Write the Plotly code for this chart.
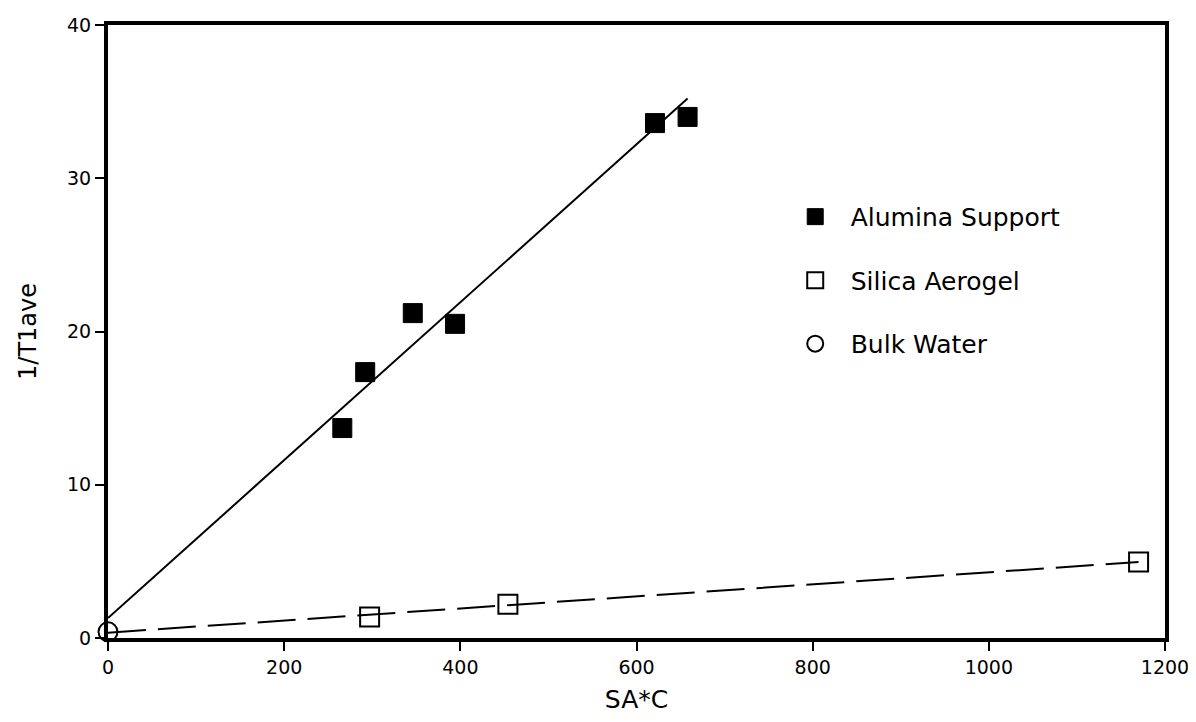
import plotly.graph_objects as go

# Data
alumina_x = [266, 292, 346, 394, 621, 658]
alumina_y = [13.7, 17.35, 21.2, 20.5, 33.6, 34.0]
silica_x = [297, 454, 1170]
silica_y = [1.37, 2.2, 4.96]
bulk_x = [0]
bulk_y = [0.4]
alumina_fit_x = [0, 658]
alumina_fit_y = [1.3, 35.2]
silica_fit_x = [0, 1170]
silica_fit_y = [0.35, 4.96]
x_ticks = [0, 200, 400, 600, 800, 1000, 1200]
y_ticks = [0, 10, 20, 30, 40]

FONT = "DejaVu Sans"

fig = go.Figure()
fig.add_trace(go.Scatter(x=alumina_fit_x, y=alumina_fit_y, mode="lines",
                         line=dict(color="black", width=2), showlegend=False,
                         cliponaxis=False, hoverinfo="skip"))
fig.add_trace(go.Scatter(x=silica_fit_x, y=silica_fit_y, mode="lines",
                         line=dict(color="black", width=2, dash="38px,12px"),
                         showlegend=False, cliponaxis=False, hoverinfo="skip"))
fig.add_trace(go.Scatter(x=alumina_x, y=alumina_y, mode="markers", name="Alumina Support",
                         legendgroup="a",
                         marker=dict(symbol="square", size=19, color="black",
                                     line=dict(color="black", width=1)),
                         cliponaxis=False))
fig.add_trace(go.Scatter(x=silica_x, y=silica_y, mode="markers", name="Silica Aerogel",
                         legendgroup="b",
                         marker=dict(symbol="square-open", size=19, color="black",
                                     line=dict(color="black", width=2)),
                         cliponaxis=False))
fig.add_trace(go.Scatter(x=bulk_x, y=bulk_y, mode="markers", name="Bulk Water",
                         legendgroup="c",
                         marker=dict(symbol="circle-open", size=19, color="black",
                                     line=dict(color="black", width=2)),
                         cliponaxis=False))

axis_common = dict(showline=True, linecolor="black", linewidth=4, mirror=True,
                   ticks="outside", ticklen=9, tickwidth=2, tickcolor="black",
                   showgrid=False, zeroline=False, automargin=False,
                   ticklabeloverflow="allow",
                   tickfont=dict(family=FONT, size=19, color="black"))

fig.update_layout(
    width=1180, height=706,
    margin=dict(l=100, r=23, t=17, b=76),
    paper_bgcolor="white", plot_bgcolor="white",
    xaxis=dict(range=[0, 1200], tickvals=x_ticks,
               title=dict(text="SA*C", font=dict(family=FONT, size=25, color="black"),
                          standoff=16),
               **axis_common),
    yaxis=dict(range=[0, 40], tickvals=y_ticks,
               title=dict(text="1/T1ave", font=dict(family=FONT, size=24, color="black"),
                          standoff=25),
               **axis_common),
    legend=dict(x=0.6355, y=0.7245, xanchor="left", yanchor="top",
                font=dict(family=FONT, size=25, color="black"),
                bgcolor="rgba(0,0,0,0)", tracegroupgap=28,
                itemwidth=61),
    showlegend=True,
)

fig.write_html("out.html")
